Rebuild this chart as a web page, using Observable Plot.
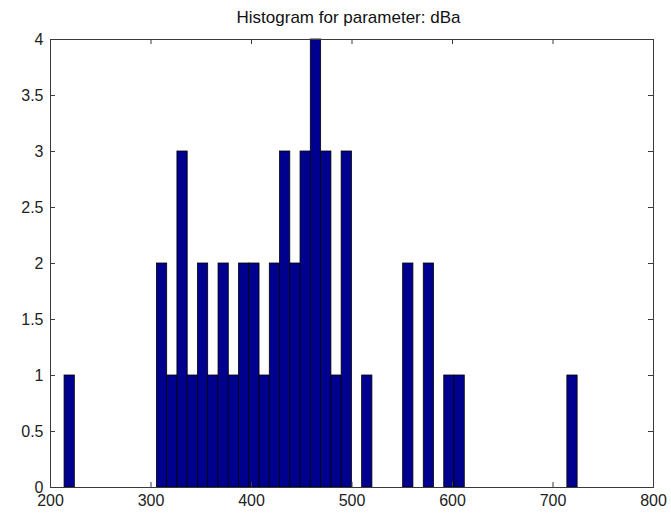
<!DOCTYPE html>
<html>
<head>
<meta charset="utf-8">
<script src="https://cdn.jsdelivr.net/npm/d3@7"></script>
<script src="https://cdn.jsdelivr.net/npm/@observablehq/plot@0.6"></script>
<style>
  html, body { margin: 0; padding: 0; background: #fff; }
  #wrap { width: 671px; height: 514px; position: relative; font-family: "Liberation Sans", Arial, sans-serif; }
  #title { height: 28px; width: 671px; box-sizing: border-box; padding-left: 26px; padding-top: 8px; text-align: center; font-size: 17px; line-height: 20px; color: #111; }
</style>
</head>
<body>
<div id="wrap">
  <div id="title">Histogram for parameter: dBa</div>
  <div id="chart"></div>
</div>
<script>
// Histogram bins (lower edge, upper edge) with counts
const binLo  = [214.0, 305.9, 316.1, 326.3, 336.5, 346.7, 356.9, 367.2, 377.4, 387.6, 397.8, 408.0, 418.2, 428.4, 438.6, 448.8, 459.0, 469.3, 479.5, 489.7, 510.1, 550.9, 571.4, 591.8, 602.0, 714.3];
const binHi  = [224.2, 316.1, 326.3, 336.5, 346.7, 356.9, 367.2, 377.4, 387.6, 397.8, 408.0, 418.2, 428.4, 438.6, 448.8, 459.0, 469.3, 479.5, 489.7, 499.9, 520.3, 561.1, 581.6, 602.0, 612.2, 724.5];
const counts = [1,     2,     1,     3,     1,     2,     1,     2,     1,     2,     2,     1,     2,     3,     2,     3,     4,     3,     1,     3,     1,     2,     2,     1,     1,     1];
const xTicks = [200, 300, 400, 500, 600, 700, 800];
const yTicks = [0, 0.5, 1, 1.5, 2, 2.5, 3, 3.5, 4];
const yTickLabels = ["0", "0.5", "1", "1.5", "2", "2.5", "3", "3.5", "4"];

const bins = binLo.map((lo, i) => ({lo, hi: binHi[i], n: counts[i]}));

const axisColor = "#3a3a3a";
const chart = Plot.plot({
  width: 671,
  height: 486,
  marginTop: 11,
  marginBottom: 27,
  marginLeft: 50,
  marginRight: 18,
  style: {fontFamily: "'Liberation Sans', Arial, sans-serif", fontSize: "16px", background: "#fff", color: "#222"},
  x: {domain: [200, 800]},
  y: {domain: [0, 4]},
  marks: [
    Plot.rectY(bins, {x1: "lo", x2: "hi", y1: 0, y2: "n", fill: "#00008F", stroke: "#000", strokeWidth: 0.8, inset: 0}),
    // inward ticks, bottom & top
    Plot.ruleX(xTicks, {x: d => d, y1: 0, y2: 0.045, stroke: axisColor}),
    Plot.ruleX(xTicks, {x: d => d, y1: 4, y2: 3.955, stroke: axisColor}),
    // inward ticks, left & right
    Plot.ruleY(yTicks, {y: d => d, x1: 200, x2: 205, stroke: axisColor}),
    Plot.ruleY(yTicks, {y: d => d, x1: 800, x2: 795, stroke: axisColor}),
    Plot.frame({stroke: axisColor, strokeWidth: 1}),
    Plot.axisX({ticks: xTicks, tickSize: 0, tickPadding: 7, label: null, tickFormat: d => String(d), fontSize: 16}),
    Plot.axisY({ticks: yTicks, tickSize: 0, tickPadding: 7, label: null, tickFormat: d => yTickLabels[yTicks.indexOf(d)], fontSize: 16})
  ]
});
document.getElementById("chart").appendChild(chart);
</script>
</body>
</html>
